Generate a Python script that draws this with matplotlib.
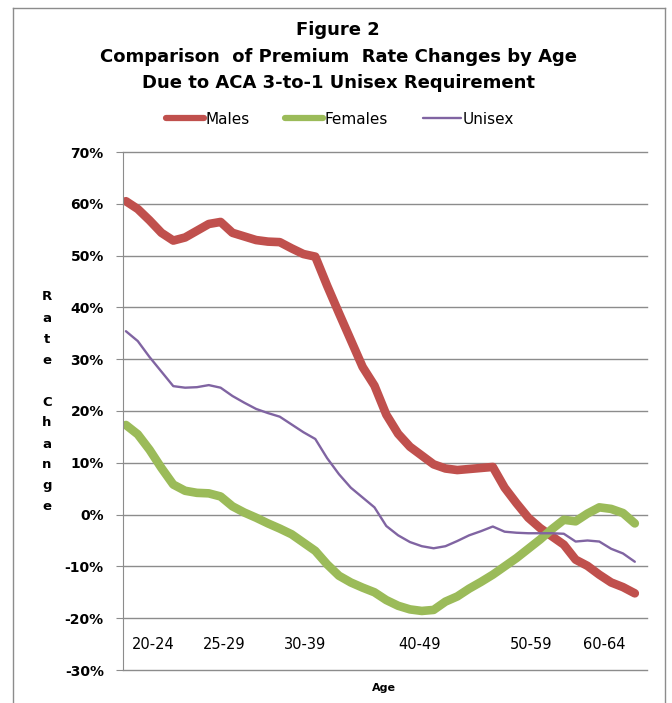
import matplotlib
matplotlib.use("Agg")
import matplotlib.pyplot as plt
from matplotlib.lines import Line2D
from matplotlib.ticker import FuncFormatter

# ages 21..64, rate change in %
ages = list(range(21, 65))
males = [60.5, 59.0, 56.8, 54.4, 52.9, 53.5, 54.8, 56.1, 56.5, 54.4,
         53.7, 53.0, 52.7, 52.6, 51.4, 50.3, 49.8, 44.2, 38.9, 33.7,
         28.5, 24.9, 19.3, 15.6, 13.1, 11.4, 9.7, 8.9, 8.6, 8.8,
         9.0, 9.2, 5.2, 2.2, -0.6, -2.6, -4.2, -5.8, -8.7, -9.9,
         -11.6, -13.1, -14.0, -15.2]
females = [17.3, 15.5, 12.5, 9.0, 5.8, 4.6, 4.2, 4.1, 3.5, 1.6,
           0.4, -0.6, -1.7, -2.7, -3.8, -5.4, -7.0, -9.6, -11.8, -13.1,
           -14.1, -15.0, -16.5, -17.6, -18.3, -18.6, -18.4, -16.8, -15.8, -14.3,
           -13.0, -11.6, -10.0, -8.4, -6.6, -4.8, -2.8, -1.0, -1.3, 0.2,
           1.4, 1.1, 0.3, -1.7]
unisex = [35.4, 33.5, 30.4, 27.6, 24.8, 24.5, 24.6, 25.0, 24.5, 22.9,
          21.6, 20.4, 19.6, 18.9, 17.4, 15.9, 14.6, 10.9, 7.8, 5.2,
          3.3, 1.4, -2.2, -4.0, -5.3, -6.1, -6.5, -6.1, -5.1, -4.0,
          -3.2, -2.3, -3.3, -3.5, -3.6, -3.6, -3.6, -3.7, -5.2, -5.0,
          -5.2, -6.6, -7.5, -9.1]

group_labels = ["20-24", "25-29", "30-39", "40-49", "50-59", "60-64"]
group_ages = [23.3, 29.3, 36.1, 45.8, 55.25, 61.4]
yticks = [-30, -20, -10, 0, 10, 20, 30, 40, 50, 60, 70]

W, H = 672, 703
fig = plt.figure(figsize=(W / 100, H / 100), dpi=100)
plt.rcParams['font.family'] = ['DejaVu Sans']

ax = fig.add_axes([122.5 / W, (H - 670) / H, (647 - 122.5) / W, (670 - 152) / H])

ax.plot(ages, males, color='#C0504D', lw=6.2, solid_capstyle='round', solid_joinstyle='round', label='Males')
ax.plot(ages, females, color='#9BBB59', lw=6.2, solid_capstyle='round', solid_joinstyle='round', label='Females')
ax.plot(ages, unisex, color='#8064A2', lw=1.7, solid_capstyle='round', solid_joinstyle='round', label='Unisex')

ax.set_xlim(20.71, 65.03)
ax.set_ylim(-30, 70)
ax.set_yticks(yticks)
ax.yaxis.set_major_formatter(FuncFormatter(lambda v, p: f"{v:.0f}%"))
ax.grid(axis='y', color='#8c8c8c', lw=1.0)
for gl in ax.get_ygridlines():
    gl.set_clip_on(False)
ax.set_axisbelow(True)
ax.set_xticks([])
for s in ['top', 'right', 'bottom']:
    ax.spines[s].set_visible(False)
ax.spines['left'].set_color('#8c8c8c')
ax.tick_params(axis='y', length=5, color='#8c8c8c', pad=8.5, labelsize=10)
for t in ax.get_yticklabels():
    t.set_fontweight('bold')

for lab, a in zip(group_labels, group_ages):
    ax.text(a, -25, lab, ha='center', va='center', fontsize=10.5)

fig.text(384 / W, 1 - 688 / H, "Age", ha='center', va='center', fontsize=8, fontweight='bold')

# stacked y-axis title
for k, ch in enumerate("Rate Change"):
    fig.text(47 / W, 1 - (297 + 21 * k) / H, ch, ha='center', va='center',
             fontsize=9.5, fontweight='bold')

tkw = dict(ha='center', va='center', fontsize=13, fontweight='bold')
fig.text(338 / W, 1 - 30 / H, "Figure 2", **tkw)
fig.text(338 / W, 1 - 57 / H, "Comparison  of Premium  Rate Changes by Age", **tkw)
fig.text(338 / W, 1 - 83 / H, "Due to ACA 3-to-1 Unisex Requirement", **tkw)

leg = fig.legend(loc='center', bbox_to_anchor=(340 / W, 1 - 119 / H), ncol=3, frameon=False,
                 fontsize=11, handlelength=2.5, handletextpad=0.1, columnspacing=2.3)
for ln, w in zip(leg.get_lines(), [4.5, 4.5, 1.7]):
    ln.set_linewidth(w)

# chart border
bc = '#8c8c8c'
fig.add_artist(Line2D([13 / W, 13 / W], [0, 1 - 8 / H], color=bc, lw=1))
fig.add_artist(Line2D([13 / W, 665 / W], [1 - 8 / H, 1 - 8 / H], color=bc, lw=1))
fig.add_artist(Line2D([665 / W, 665 / W], [0, 1 - 8 / H], color=bc, lw=1))

fig.savefig("out.png", dpi=100, facecolor='white')
